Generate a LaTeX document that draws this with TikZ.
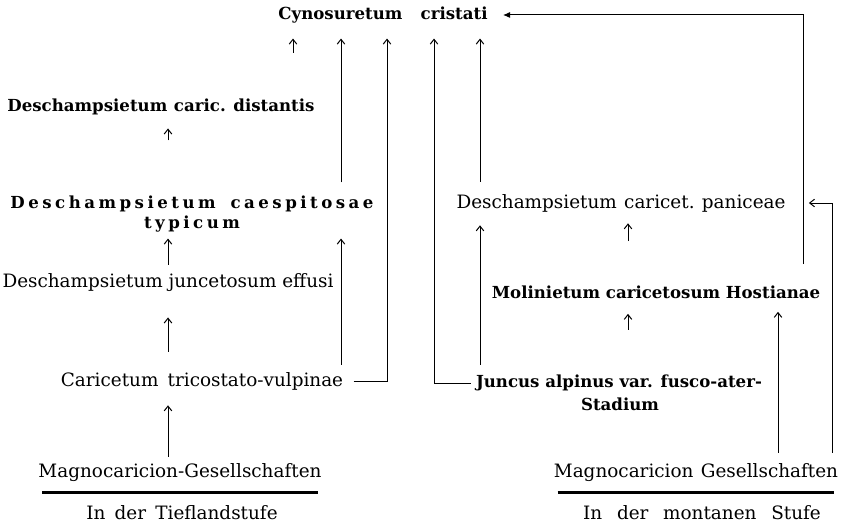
\documentclass[tikz,border=0pt]{standalone}
\usepackage{fontspec}
\setmainfont{DejaVu Serif}
\usetikzlibrary{arrows.meta}
\tikzset{
  lab/.style={inner sep=0pt, font=\fontsize{9.2}{11}\selectfont},
  labb/.style={inner sep=0pt, font=\fontsize{8.3}{10}\selectfont\bfseries},
  conn/.style={line width=0.5pt},
  arr/.style={conn, -{Straight Barb[length=2.4pt,width=3.8pt]}},
  uline/.style={line width=1.6pt, shorten <=2pt, shorten >=2pt},
}
\begin{document}
\begin{tikzpicture}[x=0.5pt,y=-0.5pt]
    \useasboundingbox (0,0) rectangle (844,524);
    % Columns of the connectors
    \coordinate (xa) at (293,0);
    \coordinate (xb) at (341,0);
    \coordinate (xc) at (387,0);
    \coordinate (xd) at (434,0);
    \coordinate (xe) at (480,0);
    \coordinate (xf) at (803,0);
    \coordinate (xg) at (832,0);
    \coordinate (xh) at (778,0);
    \coordinate (xl) at (168,0);
    \coordinate (xm) at (628,0);
    % Top
    \node[labb] (cyno) at (383,15) {Cynosuretum\hspace{1.1em}cristati};
    % Tieflandstufe
    \node[labb] (dist) at (161,107) {Deschampsietum\hspace{0.4em}caric. distantis};
    \node[labb, align=center, font=\fontsize{8.3}{10}\selectfont\bfseries\addfontfeature{LetterSpace=21}] (caesp) at (192,214) {Deschampsietum\makebox[0.9em]{}caespitosae\\typicum};
    \node[lab] (junc) at (168,283) {Deschampsietum juncetosum effusi};
    \node[lab] (cari) at (202,381) {Caricetum\hspace{0.5em}tricostato-vulpinae};
    \node[lab] (magL) at (180,473) {Magnocaricion-Gesellschaften};
    \node[lab] (tief) at (182,513) {In\hspace{0.5em}der\hspace{0.5em}Tieflandstufe};
    % montane Stufe
    \node[lab] (pan) at (621,203) {Deschampsietum\hspace{0.4em}caricet.\hspace{0.4em}paniceae};
    \node[labb] (mol) at (656,292) {Molinietum caricetosum Hostianae};
    \node[labb] (jun) at (619,383) {Juncus alpinus var. fusco-ater-};
    \node[labb] (stad) at (620,404) {Stadium};
    \node[lab] (magR) at (696,473) {Magnocaricion\hspace{0.4em}Gesellschaften};
    \node[lab] (mont) at (702,513) {In\hspace{0.8em}der\hspace{0.8em}montanen\hspace{0.8em}Stufe};
    % Underlines
    \draw[uline] ([yshift=-5pt]magL.south west) -- ([yshift=-5pt]magL.south east);
    \draw[uline] ([yshift=-5pt]magR.south west) -- ([yshift=-5pt]magR.south east);
    % Into Cynosuretum
    \draw[arr, shorten <=23pt, shorten >=7.5pt] (dist.north -| xa) -- (cyno.south -| xa);
    \draw[arr, shorten <=6.5pt, shorten >=7.5pt] (caesp.north -| xb) -- (cyno.south -| xb);
    \draw[arr, shorten <=5pt, shorten >=7.5pt] (cari.east) -| (cyno.south -| xc);
    \draw[arr, shorten <=2.5pt, shorten >=7.5pt] (jun.west) -| (cyno.south -| xd);
    \draw[arr, shorten <=6pt, shorten >=7.5pt] (pan.north -| xe) -- (cyno.south -| xe);
    \draw[conn, -{Latex[length=3.5pt,width=3pt]}, shorten <=10.5pt, shorten >=7.5pt] (mol.north -| xf) |- (cyno.east);
    % Tieflandstufe
    \draw[arr, shorten <=27.5pt, shorten >=6.5pt] (caesp.north -| xl) -- (dist.south -| xl);
    \draw[arr, shorten <=4.5pt, shorten >=3pt] (junc.north -| xl) -- (caesp.south -| xl);
    \draw[arr, shorten <=3.5pt, shorten >=3pt] (cari.north -| xb) -- (caesp.south -| xb);
    \draw[arr, shorten <=10pt, shorten >=12.5pt] (cari.north -| xl) -- (junc.south -| xl);
    \draw[arr, shorten <=3.5pt, shorten >=7.5pt] (magL.north -| xl) -- (cari.south -| xl);
    % montane Stufe
    \draw[arr, shorten <=5pt, shorten >=6.5pt] (jun.north -| xe) -- (pan.south -| xe);
    \draw[arr, shorten <=22pt, shorten >=5.5pt] (mol.north -| xm) -- (pan.south -| xm);
    \draw[arr, shorten <=22.5pt, shorten >=7.5pt] (jun.north -| xm) -- (mol.south -| xm);
    \draw[arr, shorten <=5.5pt, shorten >=6.5pt] (magR.north -| xh) -- (mol.south -| xh);
    \draw[arr, shorten <=5.5pt, shorten >=11.5pt] (magR.north -| xg) |- (pan.east);
\end{tikzpicture}
\end{document}
